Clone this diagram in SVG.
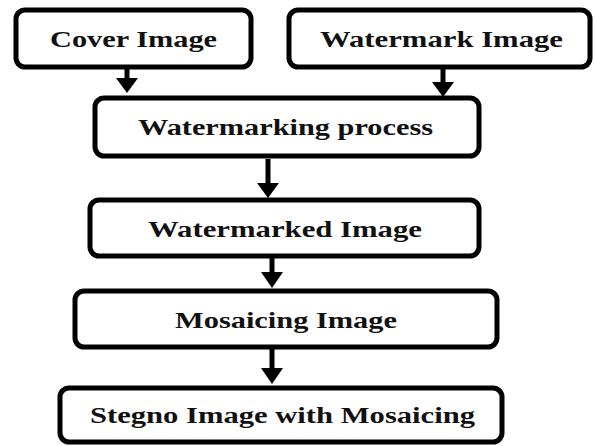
<svg xmlns="http://www.w3.org/2000/svg" width="595" height="446" viewBox="0 0 595 446">
<defs>
<style>
.box{fill:#fff;stroke:#000;stroke-width:5}
.lbl{font-family:'Liberation Serif','DejaVu Serif',serif;font-weight:700;font-size:24px;fill:#111}
.shaft{stroke:#000;stroke-width:5;fill:none}
</style>
</defs>
<rect width="595" height="446" fill="#fff"/>
<g id="connectors">
<path class="shaft" d="M127,68 V80"/><path d="M116,78 L138,78 L127,93 Z"/>
<path class="shaft" d="M443,68 V84"/><path d="M432,82 L454,82 L443,97 Z"/>
<path class="shaft" d="M268,159 V185"/><path d="M257,183 L279,183 L268,198 Z"/>
<path class="shaft" d="M272,258 V274"/><path d="M261,272 L283,272 L272,288 Z"/>
<path class="shaft" d="M272,349 V370"/><path d="M261,368 L283,368 L272,384 Z"/>
</g>
<g id="cover">
<rect class="box" x="16" y="10" width="235" height="57" rx="9"/>
<text class="lbl" x="50" y="47" textLength="167" lengthAdjust="spacingAndGlyphs">Cover Image</text>
</g>
<g id="watermark">
<rect class="box" x="289" y="10" width="301" height="57" rx="9"/>
<text class="lbl" x="320" y="47" textLength="243" lengthAdjust="spacingAndGlyphs">Watermark Image</text>
</g>
<g id="process">
<rect class="box" x="95" y="98" width="384" height="58" rx="9"/>
<text class="lbl" x="138" y="135" textLength="295" lengthAdjust="spacingAndGlyphs">Watermarking process</text>
</g>
<g id="watermarked">
<rect class="box" x="90" y="200" width="389" height="56" rx="9"/>
<text class="lbl" x="148" y="237" textLength="274" lengthAdjust="spacingAndGlyphs">Watermarked Image</text>
</g>
<g id="mosaicing">
<rect class="box" x="75" y="291" width="422" height="56" rx="9"/>
<text class="lbl" x="175" y="328" textLength="222" lengthAdjust="spacingAndGlyphs">Mosaicing Image</text>
</g>
<g id="stegno">
<rect class="box" x="60" y="388" width="442" height="54" rx="9"/>
<text class="lbl" x="90" y="423" textLength="385" lengthAdjust="spacingAndGlyphs">Stegno Image with Mosaicing</text>
</g>
</svg>
